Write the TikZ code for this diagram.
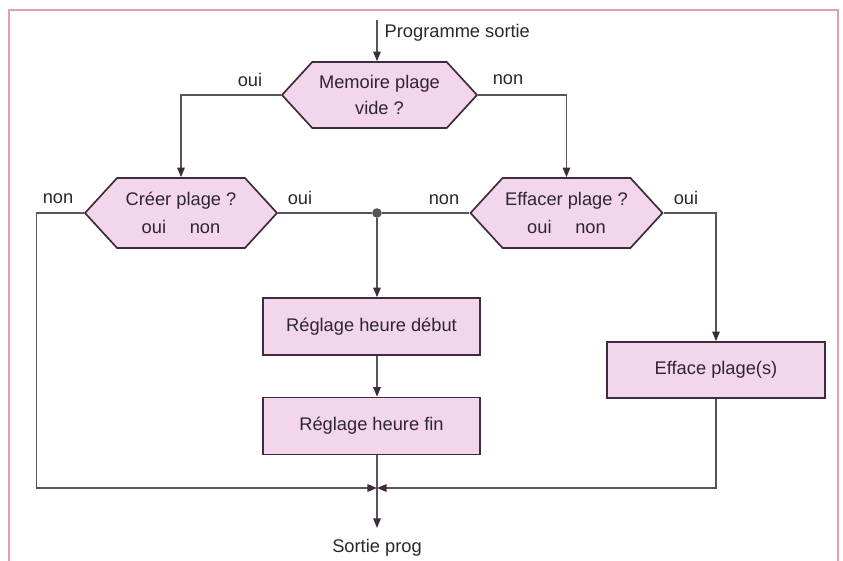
\documentclass[tikz,border=0pt]{standalone}
\usepackage{fontspec}
\setmainfont{Liberation Sans}
\usetikzlibrary{arrows.meta,positioning,shapes.symbols,calc}
\definecolor{boxfill}{RGB}{243,214,236}
\definecolor{boxline}{RGB}{62,44,62}
\definecolor{linegrey}{RGB}{85,85,90}
\definecolor{framepink}{RGB}{222,160,178}
\definecolor{ink}{RGB}{45,38,48}

\begin{document}
\begin{tikzpicture}[
  x=0.25mm, y=-0.25mm,
  font=\fontsize{13}{15}\selectfont, text=ink,
  hexa/.style={shape=signal, signal to=west and east, signal pointer angle=95,
    draw=boxline, line width=1.2pt, fill=boxfill, inner sep=0pt, align=center,
    minimum width=48mm, minimum height=17.5mm},
  box/.style={draw=boxline, line width=1.2pt, fill=boxfill,
    minimum width=54.25mm, minimum height=14.25mm},
  wire/.style={draw=linegrey, line width=0.9pt},
  flow/.style={wire, -{Triangle[length=2.4mm,width=1.9mm,color=boxline]}},
  lab/.style={inner sep=1pt}
]
\useasboundingbox (0,0) rectangle (843,561);
% frame
\draw[framepink, line width=1.1pt] (9,561) -- (9,10) -- (838,10) -- (838,561);

% decisions
\node[hexa, minimum width=48.75mm, minimum height=16.5mm] (mem) at (379.5,95) {Memoire plage\\[3pt]vide ?};
\node[hexa] (creer) at (181,213) {Cr\'eer plage ?\\[5pt]oui\hspace{1.3em}non};
\node[hexa] (eff) at (566.5,213) {Effacer plage ?\\[5pt]oui\hspace{1.3em}non};

% actions
\node[box] (debut) at (371.5,326.5) {R\'eglage heure d\'ebut};
\node[box] (fin) at (371.5,426) {R\'eglage heure fin};
\node[box, minimum width=54.5mm, minimum height=14mm] (effplage) at (716,370) {Efface plage(s)};

% entry / exit
\coordinate (start) at (377,20);
\node[lab, anchor=west] (entree) at (383,33) {Programme sortie};
\node[circle, fill=linegrey, inner sep=0pt, minimum size=2.4mm] (dot) at (377,213) {};
\coordinate (join) at (377,488);
\coordinate (stop) at (377,528);
\node[lab] (sortie) at (377,548) {Sortie prog};

% branch labels
\foreach \n/\t/\x/\y in {a/oui/250/80, b/non/508/80, c/non/58/199, d/oui/300/198, e/non/444/200, f/oui/686/198}
  \node[lab] (lab\n) at (\x,\y) {\t};

% connectors
\draw[flow] (start) -- (start |- mem.north);
\draw[flow] (mem.west) -| (creer.north);
\draw[flow] (mem.east) -| (eff.north);
\draw[wire] (creer.east) -- (dot) -- (eff.west);
\draw[flow] (dot) -- (dot |- debut.north);
\draw[flow] (dot |- debut.south) -- (dot |- fin.north);
\draw[flow] (dot |- fin.south) -- (stop);
\draw[flow] (eff.east) -| (effplage.north);
\draw[flow] (creer.west) -- ++(-47,0) |- (join);
\draw[flow] (effplage.south) |- (join);
\end{tikzpicture}
\end{document}
